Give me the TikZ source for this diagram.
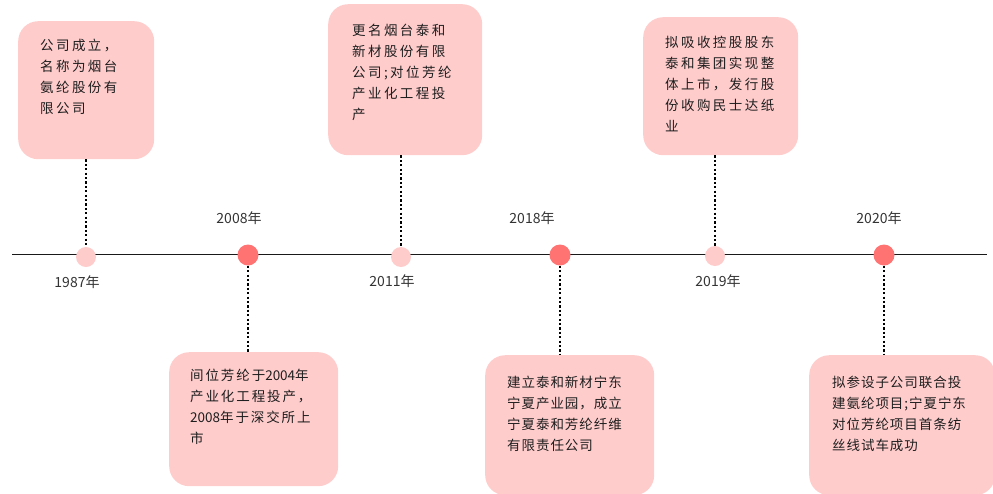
\documentclass[tikz,border=0pt]{standalone}
\usepackage{fontspec}
\setmainfont{Noto Sans CJK SC}
\newfontfamily\cjkwide[LetterSpace=18]{Noto Sans CJK SC}
\newfontfamily\cjkmid[LetterSpace=14]{Noto Sans CJK SC}
\newfontfamily\cjknarrow[LetterSpace=7]{Noto Sans CJK SC}
\newcommand\tightdigits[1]{{\normalfont #1}}
\definecolor{cardpink}{HTML}{FFCCCC}
\definecolor{dotred}{HTML}{FF7373}
\definecolor{yeargray}{HTML}{333333}
\definecolor{txtgray}{HTML}{1E1E1E}
\begin{document}
\begin{tikzpicture}[x=1pt,y=-1pt,
  card/.style={fill=cardpink, draw=none, rounded corners=20pt, inner sep=0pt, anchor=north west},
  txtbase/.style={anchor=north west, inner sep=0pt, align=left, text=txtgray},
  txtwide/.style={txtbase, font=\cjkwide\fontsize{13.5}{21}\selectfont},
  txtmid/.style={txtbase, font=\cjkmid\fontsize{13.5}{21}\selectfont},
  txtnarrow/.style={txtbase, font=\cjknarrow\fontsize{13.5}{21}\selectfont},
  lightdot/.style={circle, fill=cardpink, draw=none, minimum size=20pt, inner sep=0pt},
  darkdot/.style={circle, fill=dotred, draw=none, minimum size=21pt, inner sep=0pt},
  yearlbl/.style={text=yeargray, inner sep=0pt, font=\fontsize{14}{16}\selectfont},
  conn/.style={draw=black, line width=2pt, dash pattern=on 2.2pt off 2.2pt},
  axis/.style={draw=black!90, line width=1.5pt}]
\useasboundingbox (0,0) rectangle (993,493);

% axis
\coordinate (axl) at (12,254.5);
\coordinate (axr) at (987,254.5);
\draw[axis] (axl) -- (axr);

% cards
\node[card, minimum width=136pt, minimum height=138pt] (b1) at (18,21) {};
\node[card, minimum width=154pt, minimum height=151pt] (b2) at (328,4) {};
\node[card, minimum width=155pt, minimum height=138pt] (b3) at (643,17) {};
\node[card, minimum width=169pt, minimum height=134pt] (b4) at (169,352) {};
\node[card, minimum width=169pt, minimum height=140pt] (b5) at (485,355) {};
\node[card, minimum width=186pt, minimum height=140pt] (b6) at (809,355) {};

% card texts
\node[txtwide] (t1) at (40,39) {公司成立，\\名称为烟台\\氨纶股份有\\限公司};
\node[txtwide] (t2) at (352,24) {更名烟台泰和\\新材股份有限\\公司;对位芳纶\\产业化工程投\\产};
\node[txtwide] (t3) at (665,36) {拟吸收控股股东\\泰和集团实现整\\体上市，发行股\\份收购民士达纸\\业};
\node[txtmid] (t4) at (190,369) {间位芳纶于\tightdigits{2004}年\\产业化工程投产，\\\tightdigits{2008}年于深交所上\\市};
\node[txtnarrow] (t5) at (507,376) {建立泰和新材宁东\\宁夏产业园，成立\\宁夏泰和芳纶纤维\\有限责任公司};
\node[txtnarrow] (t6) at (832,376) {拟参设子公司联合投\\建氨纶项目;宁夏宁东\\对位芳纶项目首条纺\\丝线试车成功};

% dots
\node[lightdot] (c1) at (86,257) {};
\node[darkdot]  (c2) at (248,255) {};
\node[lightdot] (c3) at (401,257) {};
\node[darkdot]  (c4) at (560,255) {};
\node[lightdot] (c5) at (715,256) {};
\node[darkdot]  (c6) at (884,255) {};

% year labels
\node[yearlbl] (y1) at (77,282) {1987年};
\node[yearlbl] (y2) at (239,218) {2008年};
\node[yearlbl] (y3) at (392,281) {2011年};
\node[yearlbl] (y4) at (532,218) {2018年};
\node[yearlbl] (y5) at (718,281) {2019年};
\node[yearlbl] (y6) at (879,218) {2020年};

% connectors
\draw[conn] (c1.north |- b1.south) -- (c1.north);
\draw[conn] (c3.north |- b2.south) -- (c3.north);
\draw[conn] (c5.north |- b3.south) -- (c5.north);
\draw[conn] (c2.south) -- (c2.south |- b4.north);
\draw[conn] (c4.south) -- (c4.south |- b5.north);
\draw[conn] (c6.south) -- (c6.south |- b6.north);
\end{tikzpicture}
\end{document}
